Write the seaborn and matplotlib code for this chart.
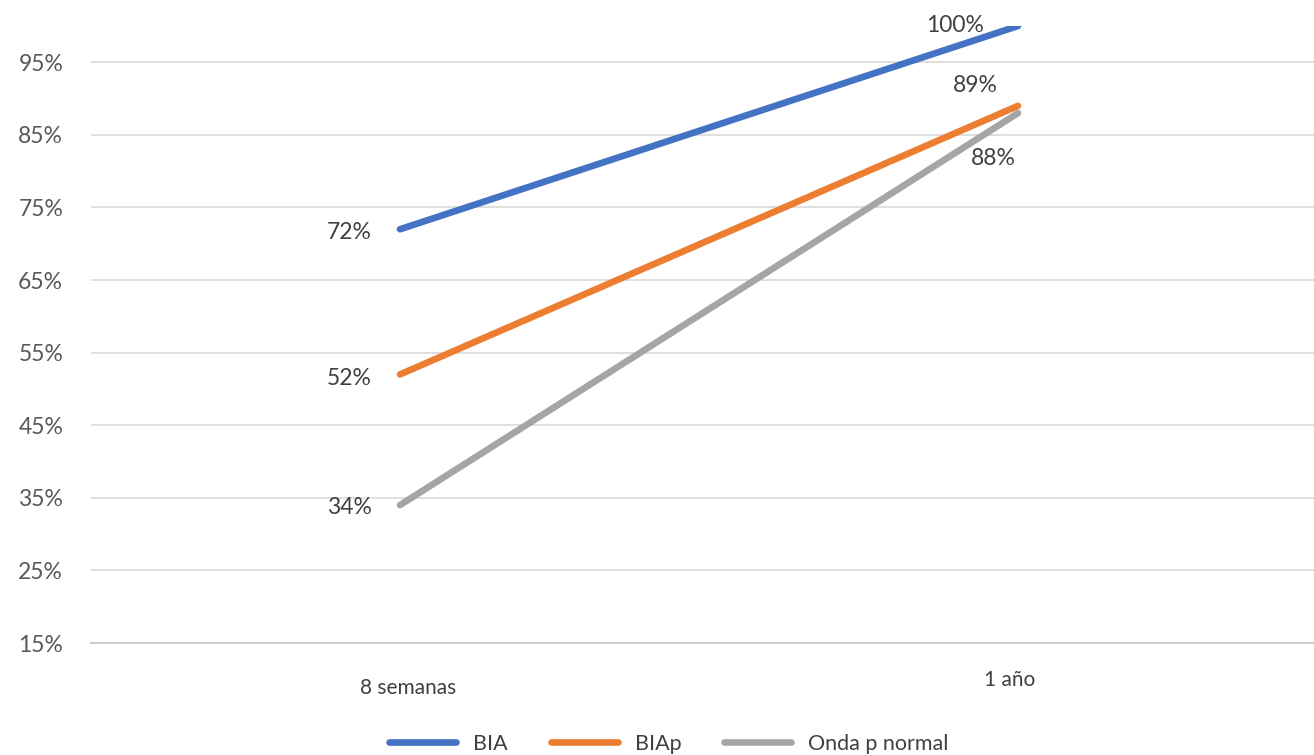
import matplotlib
matplotlib.use("Agg")
import matplotlib.pyplot as plt
import matplotlib.transforms as mtransforms
import seaborn as sns
import pandas as pd
from matplotlib.ticker import FuncFormatter

categories = ["8 semanas", "1 año"]
series_names = ["BIA", "BIAp", "Onda p normal"]
bia = [0.72, 1.00]
biap = [0.52, 0.89]
onda = [0.34, 0.88]
y_ticks = [0.15, 0.25, 0.35, 0.45, 0.55, 0.65, 0.75, 0.85, 0.95]
colors = ["#4472C4", "#ED7D31", "#A5A5A5"]

sns.set_theme(style="white")
plt.rcParams['font.family'] = ['Lato', 'DejaVu Sans']

rows = []
for name, vals in zip(series_names, [bia, biap, onda]):
    for i, v in enumerate(vals):
        rows.append({"x": i, "cat": categories[i], "serie": name, "valor": v})
df = pd.DataFrame(rows)

fig = plt.figure(figsize=(13.14, 7.55), dpi=100)
ax = fig.add_axes([91/1314, 1-643/755, 1236/1314, (643-26)/755])

sns.lineplot(data=df, x="x", y="valor", hue="serie", palette=colors,
             linewidth=4.8, ax=ax, legend=True, solid_capstyle="round")

ax.set_xlim(-0.5, 1.5)
ax.set_ylim(0.15, 1.0)
ax.set_yticks(y_ticks)
ax.yaxis.set_major_formatter(FuncFormatter(lambda v, p: f"{v*100:.0f}%"))
ax.set_xticks([0, 1])
ax.set_xticklabels(categories)
ax.set_xlabel("")
ax.set_ylabel("")
ax.grid(axis="y", color="#D9D9D9", linewidth=1.2)
ax.set_axisbelow(True)
for s in ["top", "right", "left"]:
    ax.spines[s].set_visible(False)
ax.spines["bottom"].set_color("#C8D0C8")
ax.spines["bottom"].set_linewidth(1.5)
ax.tick_params(axis="y", length=0, labelsize=16.5, labelcolor="#595959", pad=20)
ax.tick_params(axis="x", length=0, labelsize=15, labelcolor="#404040", pad=22)

xl = ax.get_xticklabels()
xl[0].set_transform(xl[0].get_transform() + mtransforms.ScaledTranslation(8/100, -4/100, fig.dpi_scale_trans))
xl[1].set_transform(xl[1].get_transform() + mtransforms.ScaledTranslation(-8/100, 4/100, fig.dpi_scale_trans))

# data labels
label_offsets = {
    "BIA": [(-28, -3, "right"), (-63, 0, "center")],
    "BIAp": [(-28, -4, "right"), (-43, 20, "center")],
    "Onda p normal": [(-28, -2, "right"), (-25, -45, "center")],
}
for name, vals in zip(series_names, [bia, biap, onda]):
    for i, v in enumerate(vals):
        dx, dy, ha = label_offsets[name][i]
        ax.annotate(f"{v*100:.0f}%", (i, v), xytext=(dx, dy), textcoords="offset pixels",
                    ha=ha, va="center", fontsize=16.5, color="#404040", annotation_clip=False)

handles, labels = ax.get_legend_handles_labels()
ax.legend(handles, labels, loc="center", bbox_to_anchor=(669/1314, 11/755),
          bbox_transform=fig.transFigure, ncol=3, frameon=False, fontsize=15.5,
          handlelength=3.1, columnspacing=2.0, handletextpad=0.8,
          labelcolor="#404040")

fig.savefig("out.png", dpi=100)
